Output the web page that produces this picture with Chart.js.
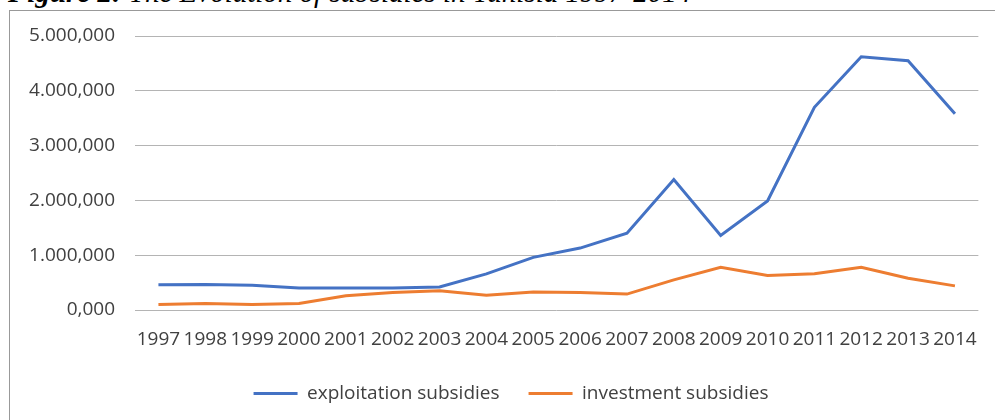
<!DOCTYPE html>
<html>
<head>
<meta charset="utf-8">
<script src="https://cdn.jsdelivr.net/npm/chart.js@4"></script>
<style>
  body { margin: 0; background: #fff; width: 995px; height: 420px; overflow: hidden; position: relative; }
  #title {
    position: absolute; left: 8px; top: -22px; white-space: nowrap;
    font-family: "Liberation Serif", serif; font-size: 29px; line-height: 29px;
    font-style: italic; color: #000;
  }
  #title b { font-weight: bold; }
  #box {
    position: absolute; left: 9px; top: 10px; width: 985px; height: 409px;
    border-left: 1px solid #999; border-top: 1px solid #999;
  }
</style>
</head>
<body>
<div id="title"><b>Figure 2:</b> The Evolution of subsidies in Tunisia 1997-2014</div>
<div id="box"><canvas id="myChart" width="985" height="409"></canvas></div>
<script>
// values in thousands (axis shows 5.000,000 = 5000)
let years = ["1997", "1998", "1999", "2000", "2001", "2002", "2003", "2004", "2005",
  "2006", "2007", "2008", "2009", "2010", "2011", "2012", "2013", "2014"];
let exploitation = [460, 465, 450, 400, 400, 400, 420, 660, 960,
  1130, 1400, 2380, 1360, 1990, 3700, 4620, 4550, 3580];
let investment = [100, 120, 100, 120, 260, 320, 350, 270, 330,
  320, 290, 550, 780, 630, 660, 780, 580, 440];
let yTicks = [0, 1000, 2000, 3000, 4000, 5000];
let yTickLabels = ["0,000", "1.000,000", "2.000,000", "3.000,000", "4.000,000", "5.000,000"];

const font = { family: "'Open Sans', sans-serif", size: 19 };

// legend is centred as if the plot had a 29px left margin
const legendShift = {
  id: "legendShift",
  afterLayout(chart) {
    chart.legend.left += 29;
  }
};

const ctx = document.getElementById("myChart");

new Chart(ctx, {
  type: "line",
  data: {
    labels: years,
    datasets: [
      {
        label: "exploitation subsidies",
        data: exploitation,
        borderColor: "#4472C4",
        backgroundColor: "#4472C4",
        borderWidth: 3,
        pointRadius: 0,
        tension: 0
      },
      {
        label: "investment subsidies",
        data: investment,
        borderColor: "#ED7D31",
        backgroundColor: "#ED7D31",
        borderWidth: 3,
        pointRadius: 0,
        tension: 0
      }
    ]
  },
  options: {
    responsive: false,
    animation: false,
    layout: { padding: { left: 0, right: 12, top: 25, bottom: 7 } },
    plugins: {
      tooltip: { enabled: false },
      legend: {
        position: "bottom",
        labels: {
          color: "#404040",
          font: font,
          usePointStyle: true,
          pointStyle: "line",
          pointStyleWidth: 44,
          padding: 29
        }
      }
    },
    scales: {
      x: {
        offset: true,
        grid: { display: false, drawTicks: false },
        border: { display: false },
        ticks: { color: "#404040", font: font, maxRotation: 0, autoSkip: false, padding: 18 },
        afterFit: (s) => { s.height = 45; }
      },
      y: {
        min: 0,
        max: 5000,
        afterBuildTicks: (s) => { s.ticks = yTicks.map(v => ({ value: v })); },
        grid: { color: "#b4b4b4", lineWidth: 1, drawTicks: false },
        border: { display: false },
        ticks: {
          color: "#404040",
          font: font,
          padding: 20,
          callback: (v) => yTickLabels[yTicks.indexOf(v)]
        },
        afterFit: (s) => {
          s.width = 125;
          s.paddingTop = 11;
          s.paddingBottom = 11;
        }
      }
    }
  },
  plugins: [legendShift]
});
</script>
</body>
</html>
